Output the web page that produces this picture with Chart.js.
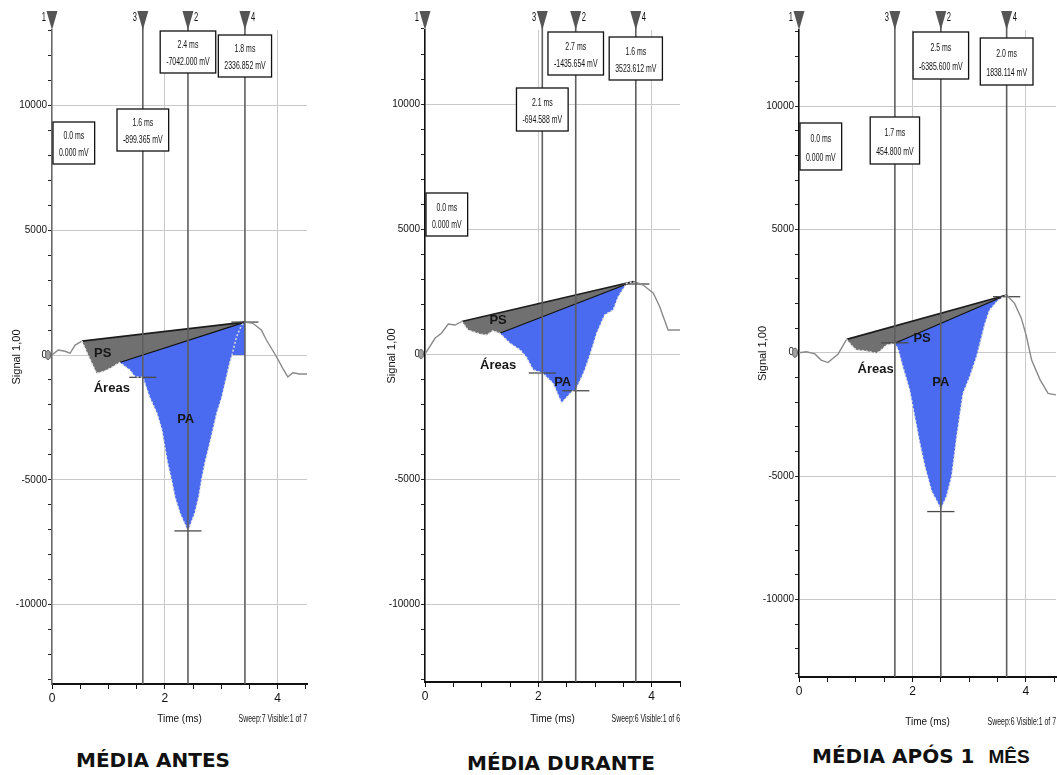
<!DOCTYPE html>
<html><head><meta charset="utf-8">
<script src="https://cdn.jsdelivr.net/npm/chart.js@4/dist/chart.umd.min.js"></script>
<style>
html,body{margin:0;padding:0;background:#fff;width:1057px;height:775px;overflow:hidden;position:relative}
canvas{position:absolute}
.ttl{position:absolute;font-family:'DejaVu Sans',sans-serif;font-weight:bold;font-size:20px;color:#111;white-space:nowrap;line-height:20px}
.ttl span{font-family:'Liberation Sans',Arial,sans-serif;font-size:19px}
</style></head><body>
<div class="ttl" style="left:76px;top:750px">MÉDIA ANTES</div>
<div class="ttl" style="left:467px;top:753px">MÉDIA DURANTE</div>
<div class="ttl" style="left:812px;top:746px">MÉDIA APÓS 1 &nbsp;<span>MÊS</span></div>
<script>
// ---------- shared axis ticks ----------
const xMinorTicks = [0, 0.5, 1, 1.5, 2, 2.5, 3, 3.5, 4, 4.5];
const xTickLabels = [0, 2, 4];
const yMinorTicks = [-13000, -12000, -11000, -10000, -9000, -8000, -7000, -6000, -5000, -4000, -3000, -2000, -1000,
  0, 1000, 2000, 3000, 4000, 5000, 6000, 7000, 8000, 9000, 10000, 11000, 12000, 13000];
const yTickLabels = [-10000, -5000, 0, 5000, 10000];
const cursorNames = ['1', '3', '2', '4'];

// ---------- Panel 1: MÉDIA ANTES ----------
const antesTime = [0, 0.11, 0.23, 0.32, 0.41, 0.53, 0.66, 0.79, 0.92, 1.03, 1.2, 1.38, 1.47, 1.61, 1.73, 1.86, 1.95, 2.0, 2.05, 2.12, 2.18, 2.27, 2.41, 2.53, 2.6, 2.65, 2.71, 2.78, 2.85, 2.92, 3.01, 3.08, 3.15, 3.19, 3.27, 3.36, 3.42, 3.56, 3.71, 3.8, 3.98, 4.09, 4.18, 4.27, 4.39, 4.52];
const antesSignal = [0, 200, 150, 70, 400, 560, -100, -735, -650, -535, -300, -600, -870, -895, -1680, -2330, -3010, -3690, -4330, -5010, -5690, -6340, -7050, -6340, -5690, -5010, -4330, -3690, -3010, -2330, -1680, -1000, -320, 0, 720, 1200, 1320, 1270, 1000, 600, -70, -535, -880, -710, -760, -760];
const antesAreaTimes = [0.53, 1.2, 3.42];          // PS start, PA start, peak
const antesCursorTime = [0, 1.61, 2.41, 3.42];
const antesCursorValue = [0, -895, -7050, 1320];
const antesCursorText = [['0.0 ms', '0.000 mV'], ['1.6 ms', '-899.365 mV'], ['2.4 ms', '-7042.000 mV'], ['1.8 ms', '2336.852 mV']];

// ---------- Panel 2: MÉDIA DURANTE ----------
const duranteTime = [0, 0.18, 0.29, 0.41, 0.53, 0.65, 0.76, 0.97, 1.09, 1.2, 1.32, 1.5, 1.68, 1.79, 1.91, 2.07, 2.26, 2.41, 2.59, 2.66, 2.82, 2.91, 3.03, 3.17, 3.32, 3.41, 3.56, 3.68, 3.85, 4.03, 4.14, 4.29, 4.5];
const duranteSignal = [0, 640, 830, 1200, 1160, 1300, 960, 800, 760, 930, 830, 430, 160, -130, -640, -750, -1170, -1950, -1510, -1440, -640, -40, 830, 1560, 1760, 2290, 2830, 2900, 2760, 2430, 1900, 960, 960];
const duranteAreaTimes = [0.65, 1.32, 3.68];
const duranteCursorTime = [0, 2.07, 2.66, 3.72];
const duranteCursorValue = [0, -760, -1470, 2800];
const duranteCursorText = [['0.0 ms', '0.000 mV'], ['2.1 ms', '-694.588 mV'], ['2.7 ms', '-1435.654 mV'], ['1.6 ms', '3523.612 mV']];

// ---------- Panel 3: MÉDIA APÓS 1 MÊS ----------
const aposTime = [0, 0.13, 0.28, 0.39, 0.51, 0.69, 0.78, 0.84, 0.92, 1.01, 1.16, 1.37, 1.45, 1.54, 1.69, 1.75, 1.83, 1.95, 2.04, 2.13, 2.22, 2.34, 2.42, 2.5, 2.6, 2.69, 2.78, 2.89, 3.01, 3.13, 3.19, 3.28, 3.36, 3.51, 3.66, 3.8, 3.92, 4.01, 4.1, 4.25, 4.39, 4.53];
const aposSignal = [0, 40, -50, -300, -400, -50, 310, 540, 310, 110, 80, -25, 110, 310, 380, 110, -570, -1510, -2590, -3670, -4620, -5630, -5970, -6340, -5830, -5020, -3400, -1650, -970, -160, 380, 1190, 1730, 2130, 2340, 2000, 1390, 650, -300, -1100, -1650, -1710];
const aposAreaTimes = [0.84, 1.69, 3.66];
const aposCursorTime = [0, 1.69, 2.5, 3.66];
const aposCursorValue = [0, 400, -6440, 2270];
const aposCursorText = [['0.0 ms', '0.000 mV'], ['1.7 ms', '454.800 mV'], ['2.5 ms', '-6385.600 mV'], ['2.0 ms', '1838.114 mV']];

// ---------- layout (pixels / styling only) ----------
const panels = [
  { key: 'a', left: 0, width: 315, padR: 8, padB: 50, xH: 41, xMax: 4.52, yMin: -13186, yMax: 13026, yTitlePad: 10, yAxis: '#6a6a6a',
    time: antesTime, signal: antesSignal, areaTimes: antesAreaTimes, paToBaseline: true,
    cursorTime: antesCursorTime, cursorValue: antesCursorValue, cursorText: antesCursorText,
    boxTops: [122, 109, 31, 35], boxH: 42, sweep: 'Sweep:7 Visible:1 of 7',
    labels: [['PS', 0.9, 80], ['Áreas', 1.06, -1320], ['PA', 2.37, -2600]] },
  { key: 'd', left: 373, width: 315, padR: 8, padB: 50, xH: 43, xMax: 4.5, yMin: -13120, yMax: 12960, yTitlePad: 12, yAxis: '#111',
    time: duranteTime, signal: duranteSignal, areaTimes: duranteAreaTimes, paToBaseline: false,
    cursorTime: duranteCursorTime, cursorValue: duranteCursorValue, cursorText: duranteCursorText,
    boxTops: [193, 88, 32, 37], boxH: 43, sweep: 'Sweep:6 Visible:1 of 6',
    labels: [['PS', 1.29, 1360], ['Áreas', 1.29, -440], ['PA', 2.43, -1120]] },
  { key: 'p', left: 747, width: 310, padR: 1, padB: 47, xH: 51, xMax: 4.53, yMin: -13146, yMax: 13081, yTitlePad: 9, yAxis: '#111',
    time: aposTime, signal: aposSignal, areaTimes: aposAreaTimes, paToBaseline: false,
    cursorTime: aposCursorTime, cursorValue: aposCursorValue, cursorText: aposCursorText,
    boxTops: [123, 117, 32, 38], boxH: 47, sweep: 'Sweep:6 Visible:1 of 7',
    labels: [['PS', 2.17, 560], ['Áreas', 1.35, -660], ['PA', 2.5, -1190]] }
];

const NARROW = "'Liberation Sans Narrow','Liberation Sans',Arial,sans-serif";
const SANS = "'Liberation Sans',Arial,sans-serif";
Chart.defaults.color = '#222';

function sqText(ctx, text, x, y, size, align) {
  ctx.save();
  ctx.translate(x, y);
  ctx.scale(0.63, 1);
  ctx.font = size + 'px ' + SANS;
  ctx.textAlign = align; ctx.textBaseline = 'middle';
  ctx.fillStyle = '#111';
  ctx.fillText(text, 0, 0);
  ctx.restore();
}
function sqWidth(ctx, text, size) {
  ctx.save(); ctx.font = size + 'px ' + SANS;
  const w = ctx.measureText(text).width * 0.63; ctx.restore(); return w;
}

function overlay(p) {
  return {
    id: 'overlay_' + p.key,
    afterDatasetsDraw(chart) {
      const { ctx, chartArea: a, scales: { x, y } } = chart;
      ctx.save();
      // origin marker
      const y0 = y.getPixelForValue(0);
      ctx.fillStyle = '#a0a0a0'; ctx.strokeStyle = '#666'; ctx.lineWidth = 1;
      ctx.beginPath(); ctx.ellipse(a.left - 4, y0, 2.5, 4.5, 0, 0, Math.PI * 2); ctx.fill(); ctx.stroke();
      // cursors
      p.cursorTime.forEach((t, i) => {
        const cx = x.getPixelForValue(t);
        if (i > 0) {
          ctx.strokeStyle = '#5e5e5e'; ctx.lineWidth = 1.6;
          ctx.beginPath(); ctx.moveTo(cx, 26); ctx.lineTo(cx, a.bottom); ctx.stroke();
        }
        ctx.fillStyle = '#555';
        ctx.beginPath(); ctx.moveTo(cx - 5.5, 11); ctx.lineTo(cx + 5.5, 11); ctx.lineTo(cx, 30); ctx.closePath(); ctx.fill();
        const leftSide = i < 2;
        sqText(ctx, cursorNames[i], leftSide ? cx - 6 : cx + 6, 18, 12, leftSide ? 'right' : 'left');
      });
      // value boxes
      p.cursorText.forEach((lines, i) => {
        const cx = x.getPixelForValue(p.cursorTime[i]);
        const w = Math.max(...lines.map(s => sqWidth(ctx, s, 11))) + 12;
        const bx = i === 0 ? cx + 1 : cx - w / 2;
        const by = p.boxTops[i];
        ctx.fillStyle = '#fff'; ctx.strokeStyle = '#111'; ctx.lineWidth = 1.3;
        ctx.fillRect(bx, by, w, p.boxH);
        ctx.strokeRect(bx, by, w, p.boxH);
        sqText(ctx, lines[0], bx + w / 2, by + p.boxH * 0.34, 11, 'center');
        sqText(ctx, lines[1], bx + w / 2, by + p.boxH * 0.74, 11, 'center');
      });
      // area labels
      ctx.fillStyle = '#161616';
      ctx.textAlign = 'center'; ctx.textBaseline = 'middle';
      p.labels.forEach(([txt, t, v]) => {
        ctx.font = 'bold 13px ' + SANS;
        ctx.fillText(txt, x.getPixelForValue(t), y.getPixelForValue(v));
      });
      // sweep text
      sqText(ctx, p.sweep, a.right, x.bottom - 6, 11, 'right');
      ctx.restore();
    }
  };
}

function buildPanel(p) {
  const cv = document.createElement('canvas');
  cv.width = p.width; cv.height = 775;
  cv.style.left = p.left + 'px'; cv.style.top = '0px';
  cv.style.width = p.width + 'px'; cv.style.height = '775px';
  document.body.appendChild(cv);

  const sig = p.time.map((t, i) => ({ x: t, y: p.signal[i] }));
  const [psT, paT, pkT] = p.areaTimes;
  const iPS = p.time.indexOf(psT), iPA = p.time.indexOf(paT), iPk = p.time.indexOf(pkT);
  const peak = sig[iPk];
  const psPoly = sig.slice(iPS, iPA + 1).concat([peak]);
  let paPoly;
  if (p.paToBaseline) {
    let iZ = iPk; while (iZ > iPA && sig[iZ].y > 0) iZ--;
    paPoly = sig.slice(iPA, iZ + 1).concat([{ x: pkT, y: 0 }, peak]);
  } else {
    paPoly = sig.slice(iPA, iPk + 1);
  }
  const markers = p.cursorTime.slice(1).map((t, k) => ({
    label: 'cursor' + cursorNames[k + 1],
    data: [{ x: t - 0.24, y: p.cursorValue[k + 1] }, { x: t + 0.24, y: p.cursorValue[k + 1] }],
    borderColor: '#4a4a4a', borderWidth: 1.3, pointRadius: 0, fill: false, order: 1
  }));
  const inArea = ctx => ctx.p0.parsed.x >= psT - 1e-9 && ctx.p1.parsed.x <= pkT + 1e-9;

  new Chart(cv, {
    type: 'line',
    data: {
      datasets: [
        { label: 'signal', data: sig, borderColor: '#8a8a8a', borderWidth: 1.4, pointRadius: 0, fill: false, order: 0,
          segment: { borderColor: c => inArea(c) ? '#e2e2e2' : '#8a8a8a', borderDash: c => inArea(c) ? [2, 2] : undefined } },
        ...markers,
        { label: 'PS line', data: [sig[iPS], peak], borderColor: '#1c1c1c', borderWidth: 1.7, pointRadius: 0, fill: false, order: 2 },
        { label: 'PA line', data: [sig[iPA], peak], borderColor: '#0e0e0e', borderWidth: 1.2, pointRadius: 0, fill: false, order: 3 },
        { label: 'PS', data: psPoly, borderColor: 'rgba(0,0,0,0)', borderWidth: 1, backgroundColor: '#707070', pointRadius: 0, fill: 'shape', order: 4 },
        { label: 'PA', data: paPoly, borderColor: 'rgba(0,0,0,0)', borderWidth: 1, backgroundColor: '#4a6bef', pointRadius: 0, fill: 'shape', order: 5 }
      ]
    },
    options: {
      responsive: false, animation: false, events: [],
      layout: { padding: { top: 30, left: 0, right: p.padR, bottom: p.padB } },
      plugins: { legend: { display: false }, tooltip: { enabled: false }, title: { display: false } },
      scales: {
        x: {
          type: 'linear', min: 0, max: p.xMax,
          afterBuildTicks: s => { s.ticks = xMinorTicks.map(v => ({ value: v })); },
          afterFit: s => { s.height = p.xH; },
          ticks: { autoSkip: false, maxRotation: 0, padding: 2, color: '#111',
            font: { family: NARROW, size: 12 },
            callback: v => xTickLabels.includes(v) ? String(v) : '' },
          grid: { drawTicks: true, tickLength: 5, tickColor: '#111', lineWidth: 1,
            color: c => (c.tick && (c.tick.value === 2 || c.tick.value === 4)) ? '#c9c9c9' : 'rgba(0,0,0,0)' },
          border: { color: '#111', width: 2 },
          title: { display: true, text: 'Time (ms)', color: '#111', font: { family: NARROW, size: 10 }, padding: { top: 0, bottom: 0 } }
        },
        y: {
          min: p.yMin, max: p.yMax,
          afterBuildTicks: s => { s.ticks = yMinorTicks.map(v => ({ value: v })); },
          afterFit: s => { s.width = 52; },
          ticks: { autoSkip: false, padding: 1, color: '#111', font: { family: NARROW, size: 10 },
            callback: v => yTickLabels.includes(v) ? String(v) : '' },
          grid: { drawTicks: true, tickLength: 4, tickColor: '#222', lineWidth: 1,
            color: c => (c.tick && yTickLabels.includes(c.tick.value)) ? '#c9c9c9' : 'rgba(0,0,0,0)' },
          border: { color: p.yAxis, width: 1.6 },
          title: { display: true, text: 'Signal 1,00', color: '#111', font: { family: SANS, size: 11 }, padding: { top: p.yTitlePad, bottom: 0 } }
        }
      }
    },
    plugins: [overlay(p)]
  });
}

panels.forEach(buildPanel);
</script>
</body></html>
